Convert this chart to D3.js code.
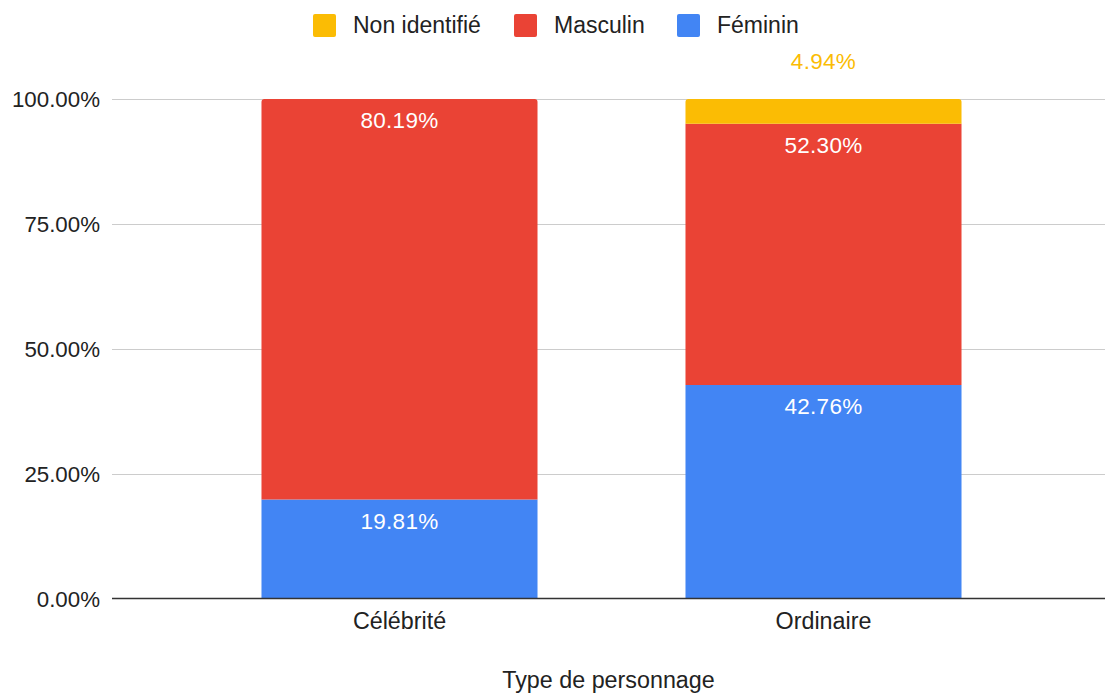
<!DOCTYPE html>
<html>
<head>
<meta charset="utf-8">
<script src="https://cdn.jsdelivr.net/npm/d3@7"></script>
<style>
  body { margin: 0; background: #fff; }
  text { font-family: "Liberation Sans", Arial, sans-serif; }
</style>
</head>
<body>
<script>
// chart data
var categories = ["Célébrité", "Ordinaire"];
var seriesNames = ["Féminin", "Masculin", "Non identifié"];
var feminin = [19.81, 42.76];
var masculin = [80.19, 52.30];
var nonIdentifie = [0, 4.94];
var yTicks = [0, 25, 50, 75, 100];
var colors = {"Féminin": "#4285F4", "Masculin": "#EA4335", "Non identifié": "#FBBC04"};

var width = 1105, height = 693;
var plotLeft = 112, plotRight = 1105;

var svg = d3.select("body").append("svg")
    .attr("width", width)
    .attr("height", height);

var x = d3.scaleBand()
    .domain(categories)
    .range([187.5, 1035.5])
    .paddingInner(0.349)
    .paddingOuter(0.1745);

var y = d3.scaleLinear()
    .domain([0, 100])
    .range([598.5, 99]);

// gridlines
svg.append("g").selectAll("line")
    .data(yTicks.filter(function(d) { return d > 0; }))
    .enter().append("line")
    .attr("x1", plotLeft).attr("x2", plotRight)
    .attr("y1", function(d) { return Math.round(y(d)) + 0.5; })
    .attr("y2", function(d) { return Math.round(y(d)) + 0.5; })
    .attr("stroke", "#cccccc");

// y tick labels
svg.append("g").selectAll("text")
    .data(yTicks)
    .enter().append("text")
    .attr("x", 100)
    .attr("y", function(d) { return y(d) + 8; })
    .attr("text-anchor", "end")
    .attr("font-size", 22.3)
    .attr("fill", "#222")
    .text(function(d) { return d.toFixed(2) + "%"; });

var rows = categories.map(function(c, i) {
  return {cat: c, "Féminin": feminin[i], "Masculin": masculin[i], "Non identifié": nonIdentifie[i]};
});
var stacked = d3.stack().keys(seriesNames)(rows);

function segPath(x0, y0, w, h, r) {
  // rect with rounded top corners
  return "M" + x0 + "," + (y0 + h) +
    "V" + (y0 + r) + "Q" + x0 + "," + y0 + " " + (x0 + r) + "," + y0 +
    "H" + (x0 + w - r) + "Q" + (x0 + w) + "," + y0 + " " + (x0 + w) + "," + (y0 + r) +
    "V" + (y0 + h) + "Z";
}

var layers = svg.append("g").selectAll("g")
    .data(stacked)
    .enter().append("g")
    .attr("fill", function(d) { return colors[d.key]; });

layers.selectAll("path")
    .data(function(d) { return d.filter(function(p) { return p[1] - p[0] > 0; }); })
    .enter().append("path")
    .attr("d", function(p) {
      var top = p[1] >= 99.99;
      var x0 = x(p.data.cat), w = x.bandwidth();
      var y0 = y(p[1]), h = y(p[0]) - y(p[1]);
      return segPath(x0, y0, w, h, top ? 3 : 0);
    });

// data labels
stacked.forEach(function(layer) {
  layer.forEach(function(p) {
    var v = p[1] - p[0];
    if (v <= 0) return;
    var cx = x(p.data.cat) + x.bandwidth() / 2;
    var small = v < 10;
    svg.append("text")
      .attr("x", cx)
      .attr("y", small ? y(p[1]) - 30 : y(p[1]) + 29)
      .attr("text-anchor", "middle")
      .attr("font-family", "Roboto, sans-serif")
      .attr("font-size", 22.5)
      .attr("font-weight", 500)
      .attr("letter-spacing", 0.3)
      .attr("fill", small ? colors[layer.key] : "#fff")
      .text(v.toFixed(2) + "%");
  });
});

// baseline
svg.append("line")
    .attr("x1", plotLeft).attr("x2", plotRight)
    .attr("y1", 598.5).attr("y2", 598.5)
    .attr("stroke", "#333").attr("stroke-width", 1.5);

// category labels
svg.append("g").selectAll("text")
    .data(categories)
    .enter().append("text")
    .attr("x", function(d) { return x(d) + x.bandwidth() / 2; })
    .attr("y", 629)
    .attr("text-anchor", "middle")
    .attr("font-size", 23.3)
    .attr("fill", "#222")
    .text(function(d) { return d; });

// axis title
svg.append("text")
    .attr("x", (plotLeft + plotRight) / 2)
    .attr("y", 688)
    .attr("text-anchor", "middle")
    .attr("font-size", 23.3)
    .attr("fill", "#222")
    .text("Type de personnage");

// legend
var legendItems = [
  {name: "Non identifié", box: 313, tx: 353},
  {name: "Masculin", box: 514, tx: 554},
  {name: "Féminin", box: 677, tx: 717}
];
var lg = svg.append("g").selectAll("g")
    .data(legendItems)
    .enter().append("g");
lg.append("rect")
    .attr("x", function(d) { return d.box; })
    .attr("y", 14)
    .attr("width", 23).attr("height", 23)
    .attr("rx", 2)
    .attr("fill", function(d) { return colors[d.name]; });
lg.append("text")
    .attr("x", function(d) { return d.tx; })
    .attr("y", 33)
    .attr("font-size", 23)
    .attr("fill", "#222")
    .text(function(d) { return d.name; });
</script>
</body>
</html>
